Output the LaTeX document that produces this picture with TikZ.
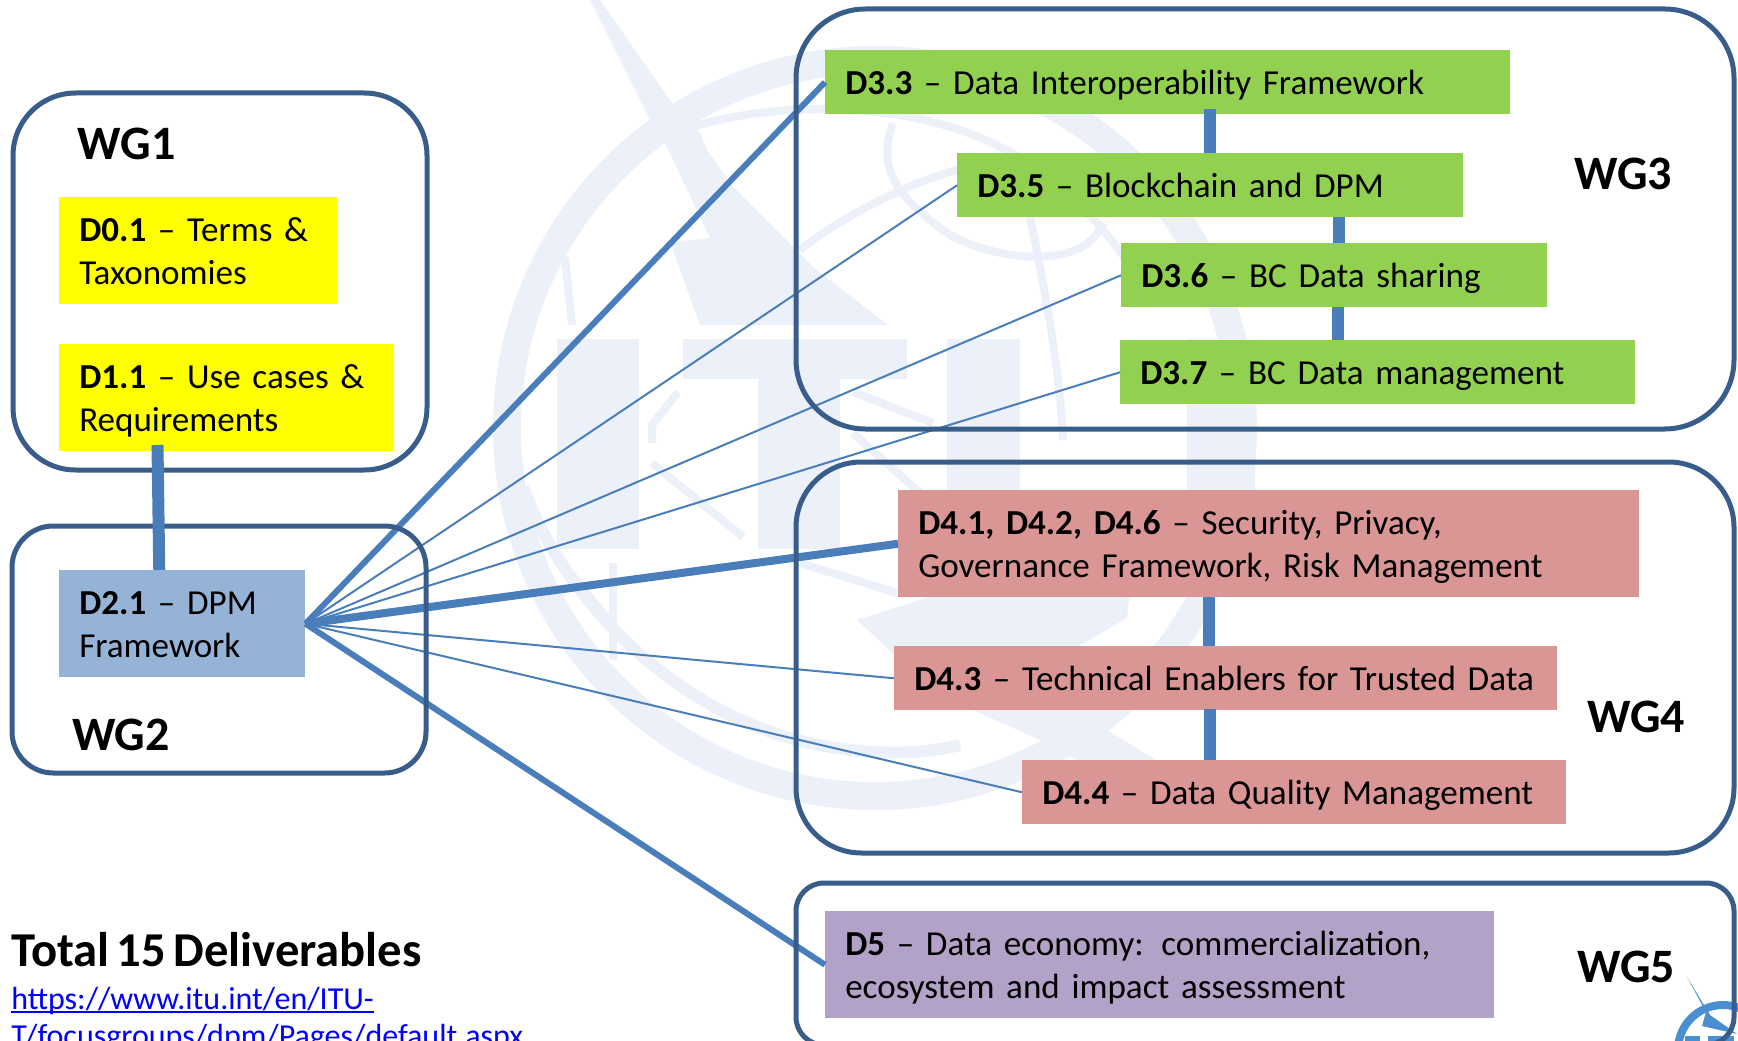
\documentclass[tikz,border=0pt]{standalone}
\usepackage{fontspec}
\setmainfont{Carlito}[WordSpace=0.65]
\definecolor{wgframe}{HTML}{385D8A}
\definecolor{wglink}{HTML}{4A7EBB}
\definecolor{palemark}{HTML}{EBF0F9}
\definecolor{logoblue}{HTML}{4A90D0}
\definecolor{dyellow}{HTML}{FFFF00}
\definecolor{dgreen}{HTML}{92D050}
\definecolor{dpink}{HTML}{D99694}
\definecolor{dblue}{HTML}{95B3D7}
\definecolor{dpurple}{HTML}{B2A2C7}
\definecolor{urlblue}{HTML}{0000FF}
\newcommand{\urlline}[1]{\sbox0{#1}\rlap{\rule[-2.6pt]{\wd0}{1.5pt}}\box0}
\newcommand{\dstrut}{\rule[-7.1pt]{0pt}{32.25pt}}
\begin{document}
\begin{tikzpicture}[y=-0.75pt,x=0.75pt]
        \tikzset{
            dbox/.style={anchor=north west,inner xsep=15pt,inner ysep=0pt,align=left,font=\fontsize{26.3}{32.25}\selectfont,
                execute at begin node=\dstrut,execute at end node=\dstrut},
            tall/.style={minimum height=80.25pt},
            flat/.style={minimum height=48pt},
            wgframebox/.style={draw=wgframe,line width=3.75pt},
            wglabel/.style={font=\fontsize{36}{40}\selectfont\bfseries},
            bar/.style={draw=wglink,line width=9pt},
            fanthin/.style={draw=wglink,line width=1.5pt},
            fanmid/.style={draw=wglink,line width=4.5pt},
            fanwide/.style={draw=wglink,line width=6pt},
            markfill/.style={fill=palemark,draw=none},
            markline/.style={draw=palemark,line width=6pt}
        }
        \useasboundingbox (0,0) rectangle (1738,1041);

        % watermark
        \draw[palemark,line width=21pt] (875,428) circle [radius=368];
        \fill[markfill] (590,0) -- (600,0) -- (672,103) -- (700,133) -- (707,150) -- (733,187) -- (813,267) -- (888,325)
            -- (700,325) -- (670,242) -- (710,238) -- (665,143) -- (650,120) -- cycle;
        \fill[markfill] (557,339) rectangle (639,549);
        \fill[markfill] (683,339) rectangle (907,379);
        \fill[markfill] (758,339) rectangle (840,549);
        \fill[markfill] (947,339) -- (1020,339) -- (1020,500) .. controls (1020,545) and (1187,545) .. (1187,500)
            -- (1187,339) -- (1255,339) -- (1255,500) .. controls (1255,590) and (947,590) .. (947,500) -- cycle;
        \fill[markfill] (857,620) -- (945,592) -- (1130,592) -- (1127,618) -- (1055,660) -- (1107,730) -- (1262,825)
            -- (1150,800) -- (1040,740) -- (973,710) -- (900,660) -- cycle;
        \draw[markline] (693,127) .. controls (760,105) and (900,95) .. (1000,147) .. controls (1060,175) and (1120,240) .. (1150,300);
        \draw[markline] (800,250) .. controls (830,225) and (900,185) .. (957,170) -- (1010,160);
        \draw[markline] (893,123) .. controls (875,170) and (900,200) .. (950,235) .. controls (1000,262) and (1085,270) .. (1103,223);
        \draw[markline] (1030,217) .. controls (1045,290) and (1060,370) .. (1063,440);
        \draw[markline] (565,257) -- (572,325);
        \draw[markline] (678,392) -- (652,425) -- (652,443);
        \draw[markline] (652,463) -- (743,537);
        \draw[markline] (853,392) -- (933,423);
        \draw[markline] (853,433) -- (947,517);
        \draw[markline] (800,563) -- (897,593);
        \draw[markline] (562,563) -- (625,640);
        \draw[markline] (613,563) -- (613,660);
        \draw[palemark,line width=9pt] (523,487) .. controls (560,590) and (660,700) .. (787,737) .. controls (830,750) and (900,760) .. (960,745);

        % small logo in the corner
        \draw[logoblue,line width=6pt] (1723,1050) circle [radius=45];
        \fill[logoblue] (1687,977) -- (1710,1015) -- (1737,1034) -- (1702,1026) -- (1706,1012) -- cycle;
        \fill[logoblue] (1685,1036) rectangle (1700,1041);
        \fill[logoblue] (1708,1036) rectangle (1734,1041);

        % deliverables
        \node[dbox,tall,fill=dyellow,text width=178.5pt] (d01) at (59,197) {\textbf{D0.1} -- Terms \&\\Taxonomies};
        \node[dbox,tall,fill=dyellow,text width=220.5pt] (d11) at (59,344) {\textbf{D1.1} -- Use cases \&\\Requirements};
        \node[dbox,tall,fill=dblue,text width=154.5pt] (d21) at (59,570) {\textbf{D2.1} -- DPM\\Framework};

        \node[dbox,flat,fill=dgreen,text width=483.75pt] (d33) at (825,50) {\textbf{D3.3} -- Data Interoperability Framework};
        \node[dbox,flat,fill=dgreen,text width=349.5pt] (d35) at (957,153) {\textbf{D3.5} -- Blockchain and DPM};
        \node[dbox,flat,fill=dgreen,text width=289.5pt] (d36) at (1121,243) {\textbf{D3.6} -- BC Data sharing};
        \node[dbox,flat,fill=dgreen,text width=356.25pt] (d37) at (1120,340) {\textbf{D3.7} -- BC Data management};

        \node[dbox,tall,fill=dpink,text width=525.75pt] (d41) at (898,490) {\textbf{D4.1, D4.2, D4.6} -- Security, Privacy,\\Governance Framework, Risk Management};
        \node[dbox,flat,fill=dpink,text width=467.25pt] (d43) at (894,646) {\textbf{D4.3} -- Technical Enablers for Trusted Data};
        \node[dbox,flat,fill=dpink,text width=378pt] (d44) at (1022,760) {\textbf{D4.4} -- Data Quality Management};

        \node[dbox,tall,fill=dpurple,text width=471.75pt] (d5) at (825,911) {\textbf{D5} -- Data economy: commercialization,\\ecosystem and impact assessment};

        % fan out of D2.1
        \draw[fanmid] (d21.east) -- (d33.west);
        \draw[fanthin] (d21.east) -- (d35.west);
        \draw[fanthin] (d21.east) -- (d36.west);
        \draw[fanthin] (d21.east) -- (d37.west);
        \draw[fanwide] (d21.east) -- (d41.west);
        \draw[fanthin] (d21.east) -- (d43.west);
        \draw[fanthin] (d21.east) -- (d44.west);
        \draw[fanmid] (d21.east) -- (d5.west);

        % working groups
        \draw[wgframebox,rounded corners=47pt] (13,93) rectangle (427,470);
        \draw[wgframebox,rounded corners=31pt] (12,526) rectangle (426,773);
        \draw[wgframebox,rounded corners=52pt] (796,9) rectangle (1734,429);
        \draw[wgframebox,rounded corners=49pt] (796,462) rectangle (1734,853);
        \draw[wgframebox,rounded corners=21pt] (796,883) rectangle (1734,1045);

        \node[wglabel] (wg1) at (126.5,144) {WG1};
        \node[wglabel] (wg2) at (121,735) {WG2};
        \node[wglabel] (wg3) at (1623,174) {WG3};
        \node[wglabel] (wg4) at (1636,717) {WG4};
        \node[wglabel] (wg5) at (1626,967) {WG5};

        % links inside a group
        \coordinate (j11) at (157.5,445);
        \coordinate (j33) at (1210,109);
        \coordinate (j35) at (1339,217);
        \coordinate (j36) at (1338,307);
        \coordinate (j41) at (1209,597);
        \coordinate (j43) at (1210,709);
        \draw[bar] (j11) -- ([xshift=-17.25pt]d21.north);
        \draw[bar] (j33) -- (j33 |- d35.north);
        \draw[bar] (j35) -- (j35 |- d36.north);
        \draw[bar] (j36) -- (j36 |- d37.north);
        \draw[bar] (j41) -- (j41 |- d43.north);
        \draw[bar] (j43) -- (j43 |- d44.north);

        \node[anchor=west,inner sep=0pt,font=\fontsize{36.5}{40}\selectfont\bfseries] (total) at (11,950) {Total 15 Deliverables};
        \node[anchor=north west,inner sep=0pt,align=left,text=urlblue,font=\fontsize{24}{28}\selectfont] (url) at (11,987)
            {\urlline{https://www.itu.int/en/ITU-}\\\urlline{T/focusgroups/dpm/Pages/default.aspx}};
    \end{tikzpicture}
\end{document}
